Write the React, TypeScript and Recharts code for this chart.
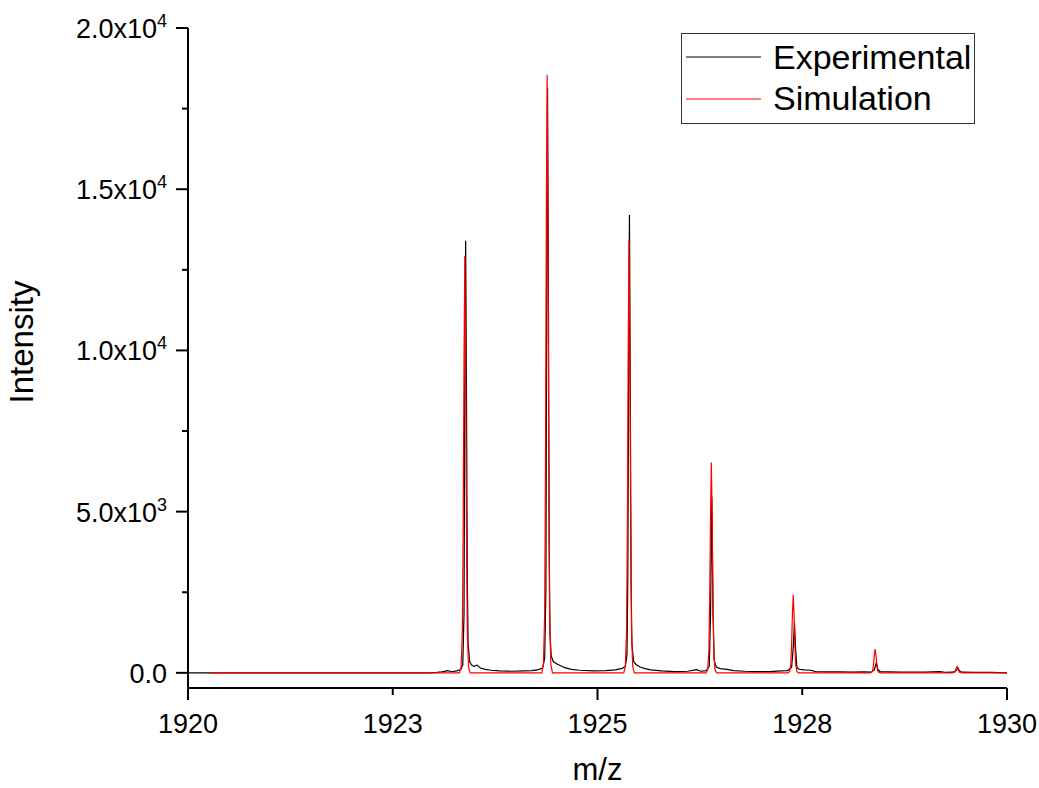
import React from "react";
import { LineChart, Line, XAxis, YAxis, Legend } from "recharts";

const seriesNames = ["Experimental", "Simulation"];
const seriesColors = ["#000000", "#ff0000"];

// experimental spectrum (m/z, intensity)
const expMz = [
  1920.0, 1922.95, 1923.04, 1923.1, 1923.17, 1923.22, 1923.28, 1923.33, 1923.355, 1923.37,
  1923.38, 1923.39, 1923.4, 1923.41, 1923.42, 1923.44, 1923.46, 1923.49, 1923.53, 1923.57,
  1923.63, 1923.7, 1923.8, 1923.95, 1924.1, 1924.2, 1924.28, 1924.33, 1924.355, 1924.37,
  1924.38, 1924.39, 1924.4, 1924.41, 1924.42, 1924.435, 1924.46, 1924.5, 1924.55, 1924.6,
  1924.68, 1924.78, 1924.95, 1925.1, 1925.22, 1925.3, 1925.34, 1925.36, 1925.37, 1925.38,
  1925.39, 1925.4, 1925.41, 1925.42, 1925.44, 1925.47, 1925.52, 1925.58, 1925.65, 1925.78,
  1925.95, 1926.1, 1926.21, 1926.26, 1926.33, 1926.365, 1926.38, 1926.395, 1926.41, 1926.425,
  1926.45, 1926.5, 1926.58, 1926.66, 1926.8, 1926.95, 1927.1, 1927.24, 1927.32, 1927.37,
  1927.39, 1927.405, 1927.42, 1927.435, 1927.46, 1927.52, 1927.61, 1927.66, 1927.8, 1927.95,
  1928.1, 1928.25, 1928.34, 1928.38, 1928.404, 1928.425, 1928.45, 1928.55, 1928.7, 1928.85,
  1929.0, 1929.18, 1929.24, 1929.34, 1929.38, 1929.4, 1929.42, 1929.45, 1929.6, 1929.8, 1930.0,
];
const expIntensity = [
  0, 0, 15, 30, 70, 35, 60, 100, 250, 1800,
  9000, 13400, 8800, 3000, 900, 340, 250, 200, 240, 150,
  110, 80, 60, 50, 60, 70, 100, 150, 450, 2600,
  11800, 18150, 12200, 4000, 1200, 520, 350, 280, 220, 160,
  110, 80, 60, 70, 90, 140, 200, 550, 2900, 9600,
  14200, 9000, 2900, 900, 360, 260, 180, 130, 90, 60,
  40, 50, 100, 50, 70, 220, 1800, 5460, 1900, 380,
  180, 130, 110, 70, 50, 40, 40, 60, 70, 170,
  800, 1550, 700, 170, 110, 90, 80, 40, 30, 30,
  20, 30, 20, 90, 320, 100, 40, 30, 20, 20,
  20, 40, 15, 20, 70, 150, 60, 20, 15, 15, 0,
];

// simulated isotope pattern (m/z, intensity)
const simMz = [
  1920.27,
  1923.315, 1923.335, 1923.35, 1923.36, 1923.37, 1923.38, 1923.39, 1923.4, 1923.41, 1923.425, 1923.445,
  1924.32, 1924.34, 1924.355, 1924.365, 1924.375, 1924.385, 1924.395, 1924.405, 1924.415, 1924.43, 1924.45,
  1925.32, 1925.34, 1925.355, 1925.365, 1925.375, 1925.385, 1925.395, 1925.405, 1925.415, 1925.43, 1925.45,
  1926.325, 1926.345, 1926.36, 1926.37, 1926.38, 1926.39, 1926.4, 1926.41, 1926.42, 1926.435, 1926.455,
  1927.325, 1927.345, 1927.36, 1927.37, 1927.38, 1927.39, 1927.4, 1927.41, 1927.42, 1927.435, 1927.455,
  1928.325, 1928.345, 1928.36, 1928.37, 1928.38, 1928.39, 1928.4, 1928.41, 1928.42, 1928.435, 1928.455,
  1929.325, 1929.345, 1929.36, 1929.37, 1929.38, 1929.39, 1929.4, 1929.41, 1929.42, 1929.435, 1929.455,
  1930.0,
];
const simIntensity = [
  0,
  0, 195, 1290, 4530, 9700, 12930, 9700, 4530, 1290, 195, 0,
  0, 280, 1850, 6500, 13900, 18550, 13900, 6500, 1850, 280, 0,
  0, 200, 1340, 4690, 10050, 13400, 10050, 4690, 1340, 200, 0,
  0, 100, 650, 2280, 4890, 6520, 4890, 2280, 650, 100, 0,
  0, 36, 240, 850, 1815, 2420, 1815, 850, 240, 36, 0,
  0, 11, 74, 257, 550, 735, 550, 257, 74, 11, 0,
  0, 3, 20, 68, 146, 195, 146, 68, 20, 3, 0,
  0,
];

const xTicks = [1920, 1922.5, 1925, 1927.5, 1930];
const xTickLabels = ["1920", "1923", "1925", "1928", "1930"];
const xMajorTicks = [1920, 1925, 1930];

const yTicks = [0, 2500, 5000, 7500, 10000, 12500, 15000, 17500, 20000];
const yMajorTicks = [0, 5000, 10000, 15000, 20000];
const yLabelMantissa = ["0.0", "5.0", "1.0", "1.5", "2.0"];
const yLabelExponent = ["", "3", "4", "4", "4"];

const expData = expMz.map((mz, i) => ({ mz, intensity: expIntensity[i] }));
const simData = simMz.map((mz, i) => ({ mz, intensity: simIntensity[i] }));

const FONT = "'Liberation Sans', Arial, sans-serif";

const XTick = (props: any) => {
  const { x, y, payload } = props;
  const v = payload.value;
  const major = xMajorTicks.includes(v);
  const idx = xTicks.indexOf(v);
  return (
    <g>
      <line x1={x} x2={x} y1={y} y2={y + (major ? 12 : 7)} stroke="#000" strokeWidth={2} />
      <text x={x} y={y + 45} textAnchor="middle" fontSize={27} fontFamily={FONT} fill="#000">
        {xTickLabels[idx]}
      </text>
    </g>
  );
};

const YTick = (props: any) => {
  const { x, y, payload } = props;
  const v = payload.value;
  const idx = yMajorTicks.indexOf(v);
  const major = idx >= 0;
  return (
    <g>
      <line x1={x - (major ? 12 : 6)} x2={x} y1={y} y2={y} stroke="#000" strokeWidth={2} />
      {major && (
        <text x={x - 21} y={y + 10} textAnchor="end" fontSize={27} fontFamily={FONT} fill="#000">
          <tspan>{yLabelExponent[idx] ? yLabelMantissa[idx] + "x10" : yLabelMantissa[idx]}</tspan>
          {yLabelExponent[idx] && (
            <tspan dy={-11} fontSize={18}>
              {yLabelExponent[idx]}
            </tspan>
          )}
        </text>
      )}
    </g>
  );
};

const XTitle = (props: any) => {
  const vb = props.viewBox || { x: 188, y: 688, width: 819 };
  return (
    <text x={vb.x + vb.width / 2} y={vb.y + 92} textAnchor="middle" fontSize={31} fontFamily={FONT} fill="#000">
      m/z
    </text>
  );
};

const YTitle = (props: any) => {
  const vb = props.viewBox || { x: 0, y: 28, height: 660 };
  const cy = vb.y + vb.height / 2 - 16;
  return (
    <text
      x={33}
      y={cy}
      transform={`rotate(-90, 33, ${cy})`}
      textAnchor="middle"
      fontSize={33}
      fontFamily={FONT}
      fill="#000"
    >
      Intensity
    </text>
  );
};

const LegendBox = () => (
  <svg width={295} height={92} style={{ display: "block" }}>
    <rect x={0.5} y={0.5} width={293} height={90} fill="#fff" stroke="#333" strokeWidth={1} />
    {seriesNames.map((name, i) => (
      <g key={name}>
        <line x1={5} x2={80} y1={24 + i * 42} y2={24 + i * 42} stroke={seriesColors[i]} strokeWidth={1} />
        <text x={92} y={36 + i * 41} fontSize={34} fontFamily={FONT} fill="#000">
          {name}
        </text>
      </g>
    ))}
  </svg>
);

export default function App() {
  return (
    <div style={{ position: "absolute", left: 0, top: 0, background: "#fff" }}>
      <LineChart width={1039} height={788} margin={{ top: 28, right: 32, left: 0, bottom: 0 }}>
        <XAxis
          dataKey="mz"
          type="number"
          domain={[1920, 1930]}
          allowDataOverflow
          ticks={xTicks}
          interval={0}
          height={100}
          tickSize={0}
          tickMargin={0}
          tickLine={false}
          tick={<XTick />}
          axisLine={{ stroke: "#000", strokeWidth: 2 }}
          label={<XTitle />}
        />
        <YAxis
          type="number"
          domain={[-470, 20000]}
          allowDataOverflow
          ticks={yTicks}
          interval={0}
          width={188}
          tickSize={0}
          tickMargin={0}
          tickLine={false}
          tick={<YTick />}
          axisLine={{ stroke: "#000", strokeWidth: 2 }}
          label={<YTitle />}
        />
        <Legend
          layout="horizontal"
          verticalAlign="middle"
          align="center"
          content={() => <LegendBox />}
          wrapperStyle={{ left: 681, top: 33, width: 295, height: 92 }}
        />
        <Line
          data={expData}
          dataKey="intensity"
          name={seriesNames[0]}
          stroke={seriesColors[0]}
          strokeWidth={1.2}
          dot={false}
          activeDot={false}
          type="linear"
          isAnimationActive={false}
        />
        <Line
          data={simData}
          dataKey="intensity"
          name={seriesNames[1]}
          stroke={seriesColors[1]}
          strokeWidth={1.2}
          dot={false}
          activeDot={false}
          type="linear"
          isAnimationActive={false}
        />
      </LineChart>
    </div>
  );
}
